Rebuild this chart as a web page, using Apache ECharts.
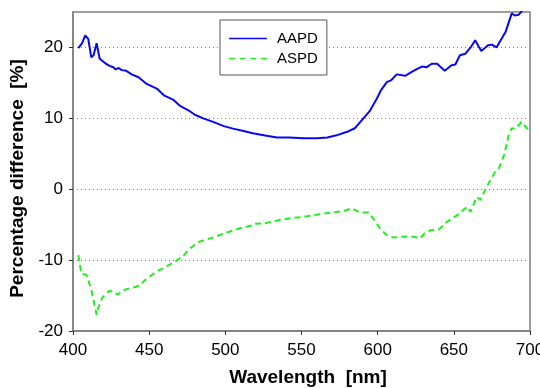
<!DOCTYPE html>
<html>
<head>
<meta charset="utf-8">
<script src="https://cdn.jsdelivr.net/npm/echarts@6/dist/echarts.min.js"></script>
<style>
  html, body { margin: 0; padding: 0; background: #fff; }
  #chart { width: 540px; height: 388px; }
</style>
</head>
<body>
<div id="chart"></div>
<script>
// wavelength [nm] and percentage difference [%]
const aapdX = [403.5, 406, 408, 410, 412, 413.5, 415.5, 417.5, 421, 424, 426.5, 428, 430, 432, 435, 438.5, 443, 448, 455, 460, 466, 470, 476, 480, 485.5, 492, 499, 505, 512, 518, 527, 534, 542, 551, 560, 567, 573, 580, 585, 589.5, 595, 599.5, 602, 606, 609, 612.5, 618, 623.5, 629, 632, 635.5, 639, 644, 648.5, 651, 654, 657.5, 661, 664, 668, 672.5, 675, 678, 684, 688, 690, 692.5, 694.5, 697, 700];
const aapd = [19.9, 20.6, 21.7, 21.2, 18.6, 18.9, 20.6, 18.4, 17.8, 17.4, 17.2, 16.9, 17.1, 16.8, 16.7, 16.2, 15.8, 14.9, 14.2, 13.2, 12.6, 11.8, 11.1, 10.5, 10.0, 9.5, 8.9, 8.55, 8.2, 7.9, 7.55, 7.3, 7.3, 7.2, 7.2, 7.3, 7.6, 8.1, 8.6, 9.7, 11.1, 12.8, 13.9, 15.1, 15.4, 16.2, 16.0, 16.7, 17.3, 17.2, 17.7, 17.7, 16.7, 17.5, 17.6, 18.9, 19.1, 20.0, 21.0, 19.5, 20.3, 20.4, 20.0, 22.2, 24.8, 24.5, 24.6, 25.1, 25.8, 26.5];
const aspdX = [403.5, 405.5, 409, 412, 415.5, 416.5, 419, 421, 424, 427.5, 429.5, 432, 435, 441, 444, 448, 455, 461.5, 467, 472, 477, 483, 492, 501, 509.5, 516, 518.5, 526, 534, 543, 551, 560, 569, 577.5, 583, 588.5, 594, 597, 601.5, 606, 610, 617, 623.5, 628, 631, 634.5, 640, 645.5, 652, 657.5, 659, 661, 665, 667.5, 670.5, 674, 677, 679.5, 683, 686, 688, 690.5, 692.5, 694.5, 698, 700];
const aspd = [-9.3, -11.9, -12.1, -14.2, -17.7, -16.8, -15.4, -14.9, -14.3, -14.6, -14.9, -14.4, -14.1, -13.8, -13.5, -12.7, -11.6, -10.9, -10.2, -9.5, -8.3, -7.4, -6.8, -6.1, -5.5, -5.2, -4.9, -4.8, -4.4, -4.1, -3.9, -3.6, -3.3, -3.1, -2.7, -3.3, -3.3, -4.1, -5.5, -6.5, -6.8, -6.7, -6.7, -6.9, -6.2, -5.8, -5.7, -4.6, -3.7, -2.7, -2.5, -3.2, -1.1, -1.5, -0.1, 1.3, 2.4, 2.9, 4.8, 7.6, 8.6, 8.5, 9.0, 9.5, 8.6, 8.0];
const yTicks = [-20, -10, 0, 10, 20];

const FONT = "'Liberation Sans', Arial, sans-serif";
const AXIS = "#7f7f7f";
const BLUE = "#0808ee", GREEN = "#22ee22";
const pairs = (xs, ys) => xs.map((x, i) => [x, ys[i]]);

const chart = echarts.init(document.getElementById("chart"));
chart.setOption({
  animation: false,
  grid: { left: 73, right: 10, top: 12, bottom: 57, outerBoundsMode: "none", show: true, borderColor: AXIS, borderWidth: 1.5 },
  legend: {
    left: 220, top: 20, orient: "vertical", itemWidth: 38, itemHeight: 14, itemGap: 5,
    padding: [11, 9, 9, 9], borderColor: "#555", borderWidth: 1, backgroundColor: "#fff",
    textStyle: { fontFamily: FONT, fontSize: 15, color: "#000", padding: [0, 0, 0, 5] },
    data: [
      { name: "AAPD", icon: "path://M0,4h56v2h-56z" },
      { name: "ASPD", icon: "path://M0,4h8v2h-8zM14,4h8v2h-8zM28,4h8v2h-8zM42,4h8v2h-8z" },
    ],
  },
  xAxis: {
    type: "value", min: 400, max: 700, interval: 50,
    name: "Wavelength  [nm]", nameLocation: "middle", nameGap: 37,
    nameTextStyle: { fontFamily: FONT, fontSize: 19, fontWeight: "bold", color: "#000", padding: [0, 0, 0, 13] },
    axisLine: { onZero: false, lineStyle: { color: AXIS, width: 1.5 } },
    axisTick: { lineStyle: { color: "#333" }, length: 4 },
    axisLabel: { fontFamily: FONT, fontSize: 17, color: "#000", margin: 11 },
    splitLine: { show: false },
  },
  yAxis: {
    type: "value", min: -20, max: 25, interval: 10,
    name: "Percentage difference  [%]", nameLocation: "middle", nameGap: 43,
    nameTextStyle: { fontFamily: FONT, fontSize: 19, fontWeight: "bold", color: "#000", padding: [0, 14, 0, 0] },
    axisLine: { onZero: false, lineStyle: { color: AXIS, width: 1.5 } },
    axisTick: { lineStyle: { color: "#333" }, length: 4, customValues: yTicks },
    axisLabel: { fontFamily: FONT, fontSize: 17, color: "#000", margin: 10, customValues: yTicks },
    splitLine: { show: true, lineStyle: { color: "#808080", type: [1, 3], width: 1 } },
  },
  series: [
    { name: "AAPD", type: "line", data: pairs(aapdX, aapd), showSymbol: false, clip: true,
      lineStyle: { color: BLUE, width: 2 }, itemStyle: { color: BLUE } },
    { name: "ASPD", type: "line", data: pairs(aspdX, aspd), showSymbol: false, clip: true,
      lineStyle: { color: GREEN, width: 2, type: [6, 4] }, itemStyle: { color: GREEN } },
  ],
});
</script>
</body>
</html>
